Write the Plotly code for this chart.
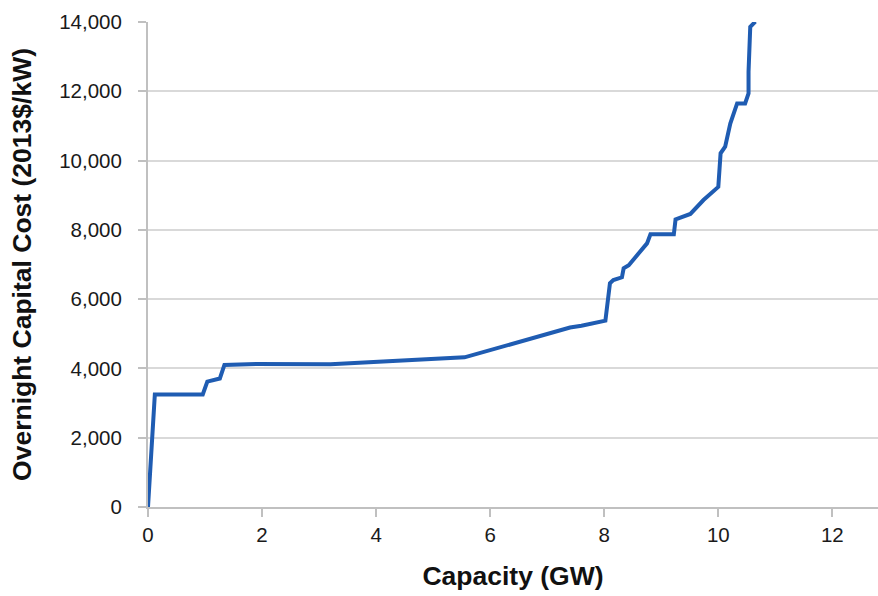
import plotly.graph_objects as go

# supply curve points (GW, 2013$/kW)
capacity_gw = [0.0, 0.12, 0.96, 1.04, 1.26, 1.34, 1.9, 3.2, 5.55, 7.4, 7.6, 8.02,
               8.1, 8.16, 8.31, 8.34, 8.43, 8.75, 8.81, 9.22, 9.25, 9.51, 9.74,
               10.0, 10.04, 10.12, 10.21, 10.33, 10.47, 10.53, 10.53, 10.56, 10.65]
cost_usd_kw = [0, 3250, 3250, 3620, 3710, 4100, 4130, 4120, 4320, 5180, 5230, 5380,
               6460, 6550, 6630, 6890, 6980, 7610, 7870, 7870, 8300, 8460, 8860,
               9240, 10210, 10400, 11070, 11650, 11650, 11940, 12560, 13860, 14010]

x_ticks = [0, 2, 4, 6, 8, 10, 12]
y_ticks = [0, 2000, 4000, 6000, 8000, 10000, 12000, 14000]

fig = go.Figure()
fig.add_trace(go.Scatter(
    x=capacity_gw,
    y=cost_usd_kw,
    mode="lines",
    line=dict(color="#1f5cb2", width=4),
    showlegend=False,
    cliponaxis=False,
))

axis_font = dict(family="Liberation Sans, Arial, sans-serif", size=20.5, color="#1a1a1a")
title_font = dict(family="Liberation Sans, Arial, sans-serif", size=26.5, color="#111111")

fig.update_layout(
    width=878,
    height=596,
    margin=dict(l=148, r=0, t=22, b=89),
    paper_bgcolor="white",
    plot_bgcolor="white",
    xaxis=dict(
        range=[0, 12.8],
        tickvals=x_ticks,
        showgrid=False,
        zeroline=False,
        showline=True,
        linecolor="#c0c0c0",
        linewidth=2,
        ticks="outside",
        ticklen=8,
        tickwidth=2,
        tickcolor="#c0c0c0",
        tickfont=axis_font,
        title=dict(text="<b>Capacity (GW)</b>", font=title_font, standoff=22),
    ),
    yaxis=dict(
        range=[0, 14000],
        tickvals=y_ticks,
        tickformat=",",
        showgrid=True,
        gridcolor="#d9d9d9",
        gridwidth=2,
        zeroline=False,
        showline=True,
        linecolor="#c0c0c0",
        linewidth=2,
        ticks="outside",
        ticklen=8,
        tickwidth=2,
        tickcolor="#c0c0c0",
        tickfont=axis_font,
        ticklabelstandoff=12,
        title=dict(text="<b>Overnight Capital Cost (2013$/kW)</b>", font=title_font, standoff=20),
    ),
)

fig.write_html("out.html", config={"displayModeBar": False},
               post_script="document.body.style.margin='0';")
